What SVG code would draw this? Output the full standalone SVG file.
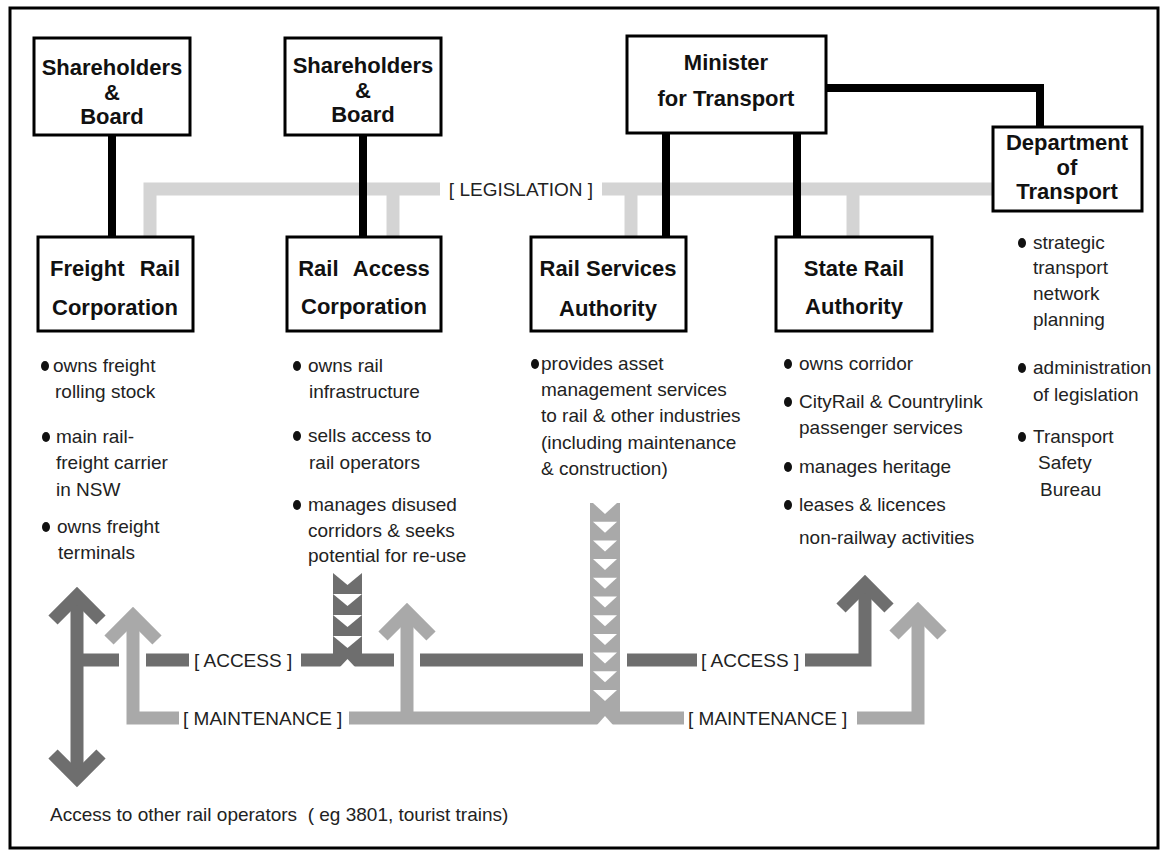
<svg xmlns="http://www.w3.org/2000/svg" width="1164" height="857" viewBox="0 0 1164 857">
<style>
.box{fill:#fff;stroke:#000;stroke-width:3}
.t{font-family:"Liberation Sans",Arial,sans-serif;font-weight:bold;font-size:22px;text-anchor:middle;fill:#111}
.b{font-family:"Liberation Sans",Arial,sans-serif;font-size:19px;fill:#222}
.lbl{font-family:"Liberation Sans",Arial,sans-serif;font-size:19px;fill:#222}
.blk{stroke:#000;stroke-width:8;fill:none}
.leg{stroke:#d4d4d4;stroke-width:13;fill:none}
.acc{stroke:#6e6e6e;stroke-width:13;fill:none;stroke-linejoin:miter}
.mnt{stroke:#a9a9a9;stroke-width:13;fill:none;stroke-linejoin:miter}
.dot{fill:#111}
</style>
<defs>
<path id="tri" d="M-12,0 L12,0 L0,11 Z" fill="#fff"/>
<path id="tri2" d="M-14.5,0 L14.5,0 L0,12 Z" fill="#fff"/>
</defs>
<rect x="10" y="8" width="1148" height="840" fill="none" stroke="#000" stroke-width="3"/>

<g id="connectors">
  <path class="leg" d="M150,237 V189 H993"/>
  <path class="leg" d="M393,189 V237"/>
  <path class="leg" d="M631,189 V237"/>
  <path class="leg" d="M853,189 V237"/>
  <rect x="440" y="177" width="162" height="24" fill="#fff"/>
  <text class="lbl" x="521" y="196" text-anchor="middle">[ LEGISLATION ]</text>

  <path class="blk" d="M112,135 V237"/>
  <path class="blk" d="M363,135 V237"/>
  <path class="blk" d="M666,133 V237"/>
  <path class="blk" d="M797,133 V237"/>
  <path class="blk" d="M826,88 H1040 V127"/>

  <path class="acc" d="M77,596 V778"/>
  <polyline class="acc" points="53,620 77,596 101,620"/>
  <polyline class="acc" points="53,754 77,778 101,754"/>
  <path class="acc" d="M77,660 H119"/>
  <path class="acc" d="M146,660 H189"/>
  <text class="lbl" x="194" y="667">[ ACCESS ]</text>
  <path class="acc" d="M301,660 H394"/>
  <path class="acc" d="M420,660 H583"/>
  <path class="acc" d="M627,660 H697"/>
  <text class="lbl" x="701" y="667">[ ACCESS ]</text>
  <path class="acc" d="M805,660 H865 V584"/>
  <polyline class="acc" points="841,608 865,584 889,608"/>

  <path class="mnt" d="M133,616 V718 H179"/>
  <polyline class="mnt" points="109,640 133,616 157,640"/>
  <text class="lbl" x="183" y="725">[ MAINTENANCE ]</text>
  <path class="mnt" d="M349,718 H684"/>
  <path class="mnt" d="M407,612 V718"/>
  <polyline class="mnt" points="383,636 407,612 431,636"/>
  <text class="lbl" x="688" y="725">[ MAINTENANCE ]</text>
  <path class="mnt" d="M857,718 H918 V611"/>
  <polyline class="mnt" points="894,635 918,611 942,635"/>

  <g id="rac-chevrons">
    <rect x="333" y="573" width="29" height="87" fill="#6e6e6e"/>
    <use href="#tri2" x="347.5" y="573"/>
    <use href="#tri2" x="347.5" y="594"/>
    <use href="#tri2" x="347.5" y="615"/>
    <use href="#tri2" x="347.5" y="636"/>
    <path d="M340,667 L355,667 L347.5,659 Z" fill="#fff"/>
  </g>
  <g id="rsa-chevrons">
    <rect x="590" y="503" width="30" height="215" fill="#a9a9a9"/>
    <use href="#tri" x="605" y="503"/>
    <use href="#tri" x="605" y="521.7"/>
    <use href="#tri" x="605" y="540.4"/>
    <use href="#tri" x="605" y="559.1"/>
    <use href="#tri" x="605" y="577.8"/>
    <use href="#tri" x="605" y="596.5"/>
    <use href="#tri" x="605" y="615.2"/>
    <use href="#tri" x="605" y="633.9"/>
    <use href="#tri" x="605" y="652.6"/>
    <use href="#tri" x="605" y="671.3"/>
    <use href="#tri" x="605" y="690"/>
    <path d="M597,725 L613,725 L605,716 Z" fill="#fff"/>
  </g>
</g>

<g id="sb1">
  <rect class="box" x="34" y="38" width="156" height="97"/>
  <text class="t" x="112" y="75">Shareholders</text>
  <text class="t" x="112" y="99.5">&amp;</text>
  <text class="t" x="112" y="124">Board</text>
</g>
<g id="sb2">
  <rect class="box" x="285" y="38" width="156" height="97"/>
  <text class="t" x="363" y="73">Shareholders</text>
  <text class="t" x="363" y="97.5">&amp;</text>
  <text class="t" x="363" y="122">Board</text>
</g>
<g id="minister">
  <rect class="box" x="627" y="36" width="199" height="97"/>
  <text class="t" x="726" y="70">Minister</text>
  <text class="t" x="726" y="106">for Transport</text>
</g>
<g id="dept">
  <rect class="box" x="993" y="127" width="149" height="84"/>
  <text class="t" x="1067" y="150">Department</text>
  <text class="t" x="1067" y="174.5">of</text>
  <text class="t" x="1067" y="199">Transport</text>
</g>
<g id="frc">
  <rect class="box" x="38" y="237" width="155" height="94"/>
  <text class="t" x="115" y="276" word-spacing="9">Freight Rail</text>
  <text class="t" x="115" y="315">Corporation</text>
</g>
<g id="rac">
  <rect class="box" x="287" y="237" width="154" height="94"/>
  <text class="t" x="364" y="276" word-spacing="9">Rail Access</text>
  <text class="t" x="364" y="314">Corporation</text>
</g>
<g id="rsa">
  <rect class="box" x="531" y="237" width="155" height="94"/>
  <text class="t" x="608" y="276">Rail Services</text>
  <text class="t" x="608" y="316">Authority</text>
</g>
<g id="sra">
  <rect class="box" x="776" y="237" width="156" height="94"/>
  <text class="t" x="854" y="276">State Rail</text>
  <text class="t" x="854" y="314">Authority</text>
</g>

<g id="frc-notes">
  <ellipse class="dot" cx="45" cy="366" rx="4" ry="5"/>
  <text class="b" x="53" y="372">owns freight</text>
  <text class="b" x="55" y="398">rolling stock</text>
  <ellipse class="dot" cx="46" cy="437" rx="4" ry="5"/>
  <text class="b" x="56" y="443">main rail-</text>
  <text class="b" x="56" y="469">freight carrier</text>
  <text class="b" x="56" y="496">in NSW</text>
  <ellipse class="dot" cx="46" cy="527" rx="4" ry="5"/>
  <text class="b" x="57" y="533">owns freight</text>
  <text class="b" x="58" y="559">terminals</text>
</g>
<g id="rac-notes">
  <ellipse class="dot" cx="297" cy="366" rx="4" ry="5"/>
  <text class="b" x="308" y="372">owns rail</text>
  <text class="b" x="309" y="398">infrastructure</text>
  <ellipse class="dot" cx="297" cy="436" rx="4" ry="5"/>
  <text class="b" x="308" y="442">sells access to</text>
  <text class="b" x="309" y="469">rail operators</text>
  <ellipse class="dot" cx="297" cy="505" rx="4" ry="5"/>
  <text class="b" x="308" y="511">manages disused</text>
  <text class="b" x="308" y="537">corridors &amp; seeks</text>
  <text class="b" x="308" y="562">potential for re-use</text>
</g>
<g id="rsa-notes">
  <ellipse class="dot" cx="535" cy="364" rx="4" ry="5"/>
  <text class="b" x="541" y="370">provides asset</text>
  <text class="b" x="541" y="396">management services</text>
  <text class="b" x="541" y="422">to rail &amp; other industries</text>
  <text class="b" x="541" y="449">(including maintenance</text>
  <text class="b" x="541" y="475">&amp; construction)</text>
</g>
<g id="sra-notes">
  <ellipse class="dot" cx="788" cy="364" rx="4" ry="5"/>
  <text class="b" x="799" y="370">owns corridor</text>
  <ellipse class="dot" cx="788" cy="402" rx="4" ry="5"/>
  <text class="b" x="799" y="408">CityRail &amp; Countrylink</text>
  <text class="b" x="799" y="434">passenger services</text>
  <ellipse class="dot" cx="788" cy="467" rx="4" ry="5"/>
  <text class="b" x="799" y="473">manages heritage</text>
  <ellipse class="dot" cx="788" cy="505" rx="4" ry="5"/>
  <text class="b" x="799" y="511">leases &amp; licences</text>
  <text class="b" x="799" y="544">non-railway activities</text>
</g>
<g id="dept-notes">
  <ellipse class="dot" cx="1022" cy="243" rx="4" ry="5"/>
  <text class="b" x="1033" y="249">strategic</text>
  <text class="b" x="1033" y="274">transport</text>
  <text class="b" x="1033" y="300">network</text>
  <text class="b" x="1033" y="326">planning</text>
  <ellipse class="dot" cx="1022" cy="368" rx="4" ry="5"/>
  <text class="b" x="1033" y="374">administration</text>
  <text class="b" x="1033" y="401">of legislation</text>
  <ellipse class="dot" cx="1022" cy="437" rx="4" ry="5"/>
  <text class="b" x="1033" y="443">Transport</text>
  <text class="b" x="1038" y="469">Safety</text>
  <text class="b" x="1040" y="496">Bureau</text>
</g>
<text class="b" x="50" y="821">Access to other rail operators&#160; ( eg 3801, tourist trains)</text>
</svg>
